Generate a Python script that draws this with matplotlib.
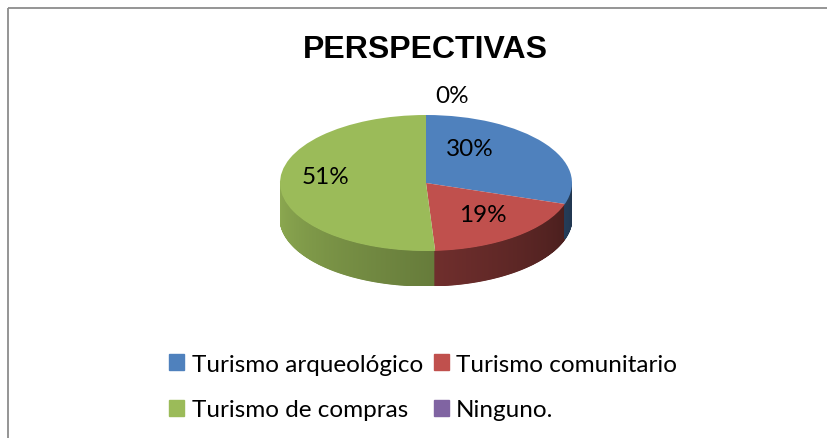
import matplotlib.pyplot as plt
import matplotlib.patches as mpatches
import matplotlib.colors as mcolors
import numpy as np

# data
labels = ['Turismo arqueológico', 'Turismo comunitario', 'Turismo de compras', 'Ninguno.']
values = [30, 19, 51, 0]
colors = ['#4F81BD', '#C0504D', '#9BBB59', '#8064A2']
title = 'PERSPECTIVAS'

W, H = 828, 439
fig = plt.figure(figsize=(W / 100, H / 100), dpi=100)
fig.patch.set_facecolor('white')

# outer chart border (right/bottom edges run off the picture)
bg = fig.add_axes([0, 0, 1, 1])
bg.set_xlim(0, W)
bg.set_ylim(H, 0)
bg.axis('off')
bg.add_patch(mpatches.Rectangle((8, 9), W, H, fill=False, edgecolor='#8c8c8c', lw=1.3))

# pie geometry in pixels: top ellipse centre, semi-axes, side depth
cx, cy, a, b, depth = 426, 184, 146, 68, 35
dd = depth / b
ax = fig.add_axes([(cx - a) / W, (H - (cy + b + depth)) / H, 2 * a / W, (2 * b + depth) / H])
ax.axis('off')

vals = np.array(values, dtype=float)
fracs = vals / vals.sum()

def slice_at(theta):
    off = (90 - theta) % 360
    acc = 0
    for i, f in enumerate(fracs):
        if off < acc + 360 * f:
            return i
        acc += 360 * f
    return len(fracs) - 1

# side band: front half of the disc, drawn as thin strips with a shading ramp
thetas = np.linspace(180, 360, 361)
for t0, t1 in zip(thetas[:-1], thetas[1:]):
    tm = 0.5 * (t0 + t1)
    i = slice_at(tm)
    rgb = np.array(mcolors.to_rgb(colors[i]))
    k = (tm - 180) / 180
    shade = 0.92 - 0.5 * k
    if i == 1:
        shade -= 0.08
    c = np.clip(rgb * shade, 0, 1)
    r0, r1 = np.radians(t0), np.radians(t1)
    xs = [np.cos(r0), np.cos(r1), np.cos(r1), np.cos(r0)]
    ys = [np.sin(r0), np.sin(r1), np.sin(r1) - dd, np.sin(r0) - dd]
    ax.fill(xs, ys, facecolor=c, edgecolor=c, lw=0.8)

# top face
ax.pie(values, colors=colors, startangle=90, counterclock=False, radius=1,
       wedgeprops=dict(linewidth=0))
ax.set_aspect('auto')
ax.set_xlim(-1, 1)
ax.set_ylim(-1 - dd, 1)

# percentage labels (positions in ellipse units)
lab_pos = [(0.30, 0.50), (0.39, -0.46), (-0.69, 0.09), (0.18, 1.28)]
for (x, y), v in zip(lab_pos, values):
    ax.text(x, y, f'{v}%', ha='center', va='center', fontsize=17.5,
            family='Lato', color='black', clip_on=False)

fig.text(0.514, 0.885, title, ha='center', va='center', fontsize=23,
         family='Liberation Sans', weight='bold')

# legend, row-major order
handles = [mpatches.Patch(color=c) for c in colors]
order = [0, 2, 1, 3]
leg = fig.legend([handles[i] for i in order], [labels[i] for i in order], ncol=2,
                 loc='center', bbox_to_anchor=(0.511, 0.116), frameon=False,
                 prop=dict(family='Lato', size=17.5), handlelength=0.62, handleheight=0.62,
                 handletextpad=0.3, columnspacing=0.45, labelspacing=1.0)

fig.savefig('out.png', dpi=100)
